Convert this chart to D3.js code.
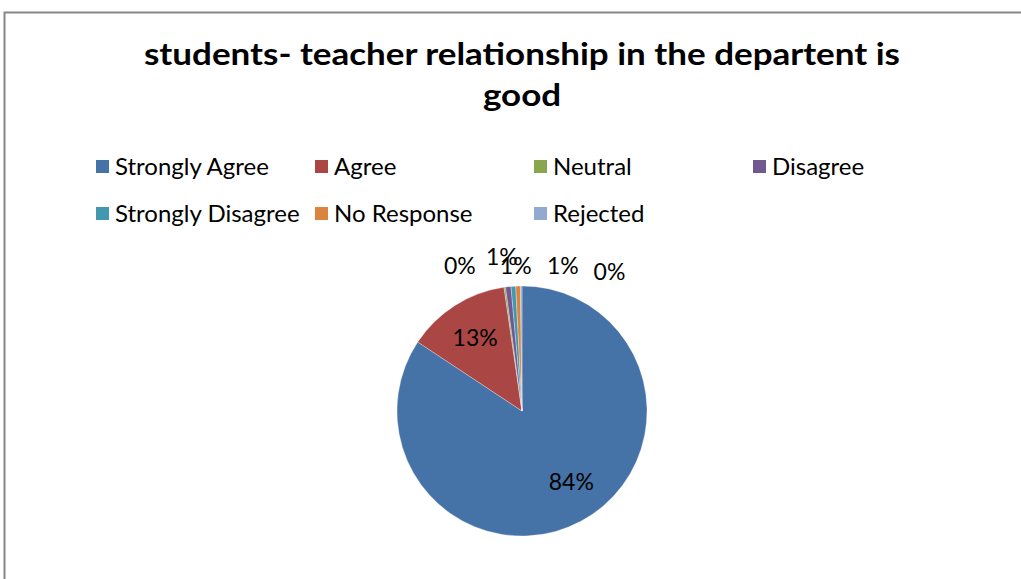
<!DOCTYPE html>
<html><head><meta charset="utf-8">
<script src="https://cdn.jsdelivr.net/npm/d3@7"></script>
<style>body{margin:0;background:#fff}svg{display:block}</style>
</head><body>
<svg id="chart" width="1021" height="579"></svg>
<script>
const categories = ["Strongly Agree","Agree","Neutral","Disagree","Strongly Disagree","No Response","Rejected"];
const values = [84.3, 13.4, 0.2, 0.7, 0.6, 0.6, 0.2];
const labels = ["84%","13%","0%","1%","1%","1%","0%"];
const colors = ["#4572A7","#AA4643","#89A54E","#71588F","#4198AF","#DB843D","#93A9CF"];
// label placement (degrees clockwise from 12 o'clock, radius) for outside labels; null => inside
const labelPolar = [[145,86], null, [-23,159], [-7.4,156], [-2.4,146], [15.6,152], [32,165]];

const svg = d3.select("#chart");
const W = 1021, H = 579;
const font = "Lato, 'Open Sans', sans-serif";

// frame
svg.append("path").attr("d", `M4.5,${H} V12.5 H${W}`).attr("fill","none").attr("stroke","#888").attr("stroke-width",2);

// title
const title = svg.append("text").attr("text-anchor","middle").attr("font-family",font)
  .attr("font-weight","bold").attr("font-size",31).attr("fill","#000");
const t1 = title.append("tspan").attr("x",522).attr("y",65).text("students- teacher relationship in the departent is");
const t2 = title.append("tspan").attr("x",522).attr("y",106).text("good");
const ratio = 756 / t1.node().getComputedTextLength();
[t1,t2].forEach(t=>t.attr("textLength", t.node().getComputedTextLength()*ratio).attr("lengthAdjust","spacingAndGlyphs"));

// legend
const legend = svg.append("g");
categories.forEach((c,i)=>{
  const col = i%4, row = Math.floor(i/4);
  const g = legend.append("g").attr("transform",`translate(${96+col*219},${167+row*47})`);
  g.append("rect").attr("x",0).attr("y",-7).attr("width",13).attr("height",13).attr("fill",colors[i]);
  g.append("text").attr("x",19).attr("y",8).attr("font-family",font).attr("font-size",24).attr("fill","#000").text(c);
});

// pie
const cx = 522, cy = 411, R = 125;
const pie = d3.pie().sort(null).value(d=>d)(values);
const arc = d3.arc().innerRadius(0).outerRadius(R);
const g = svg.append("g").attr("transform",`translate(${cx},${cy})`);
g.selectAll("path").data(pie).join("path").attr("d",arc).attr("fill",(d,i)=>colors[i])
  .attr("stroke","#fff").attr("stroke-width",0.3);

const labelArc = d3.arc().innerRadius(R*0.7).outerRadius(R*0.7);
g.selectAll("text.lbl").data(pie).join("text").attr("class","lbl")
  .attr("transform",(d,i)=>{
    if(labelPolar[i]){const a=labelPolar[i][0]*Math.PI/180, r=labelPolar[i][1];return `translate(${r*Math.sin(a)},${-r*Math.cos(a)})`;}
    const [x,y]=labelArc.centroid(d); return `translate(${x},${y})`;
  })
  .attr("text-anchor","middle").attr("dominant-baseline","central")
  .attr("font-family",font).attr("font-size",23).attr("fill","#000")
  .text((d,i)=>labels[i]);
</script>
</body></html>
